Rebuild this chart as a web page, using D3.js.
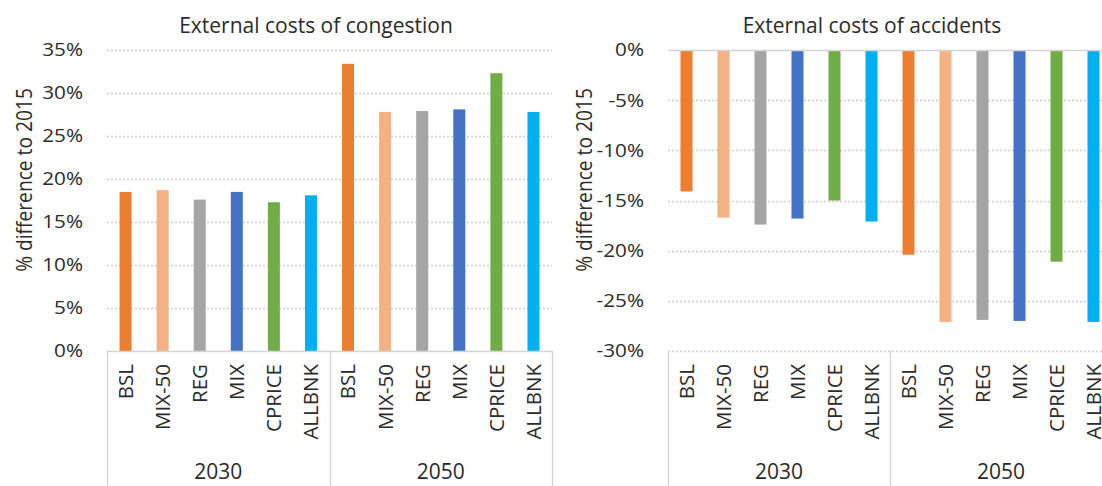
<!DOCTYPE html>
<html>
<head>
<meta charset="utf-8">
<script src="https://cdn.jsdelivr.net/npm/d3@7/dist/d3.min.js"></script>
<style>
  html, body { margin: 0; padding: 0; background: #ffffff; }
  svg { display: block; font-family: "Open Sans", "Noto Sans", sans-serif; }
</style>
</head>
<body>
<svg id="chart" width="1102" height="486"></svg>
<script>
// ---- data ----
const scenarios = ["BSL", "MIX-50", "REG", "MIX", "CPRICE", "ALLBNK"];
const years = ["2030", "2050"];
const congestion2030 = [18.5, 18.7, 17.6, 18.5, 17.3, 18.1];
const congestion2050 = [33.4, 27.8, 27.9, 28.1, 32.3, 27.8];
const accidents2030 = [-14.1, -16.7, -17.4, -16.8, -15.0, -17.1];
const accidents2050 = [-20.4, -27.1, -26.9, -27.0, -21.1, -27.1];
const congestionTicks = [0, 5, 10, 15, 20, 25, 30, 35];
const accidentTicks = [0, -5, -10, -15, -20, -25, -30];
const colors = ["#ED7D31", "#F4B183", "#A5A5A5", "#4472C4", "#70AD47", "#00B0F0"];
const yAxisTitle = "% difference to 2015";

const svg = d3.select("#chart");
const textColor = "#2b2b2b";
const gridColor = "#cfcfcf";
const boxColor = "#d4d4d4";

function buildRows(v2030, v2050) {
  const rows = [];
  years.forEach((yr, yi) => {
    const vals = yi === 0 ? v2030 : v2050;
    scenarios.forEach((s, si) => rows.push({ key: yr + "|" + s, year: yr, scen: s, si, value: vals[si] }));
  });
  return rows;
}

function drawPanel(cfg) {
  const g = svg.append("g");
  const rows = buildRows(cfg.v2030, cfg.v2050);
  const x = d3.scaleBand().domain(rows.map(d => d.key)).range([cfg.x0, cfg.x1]).paddingInner(0).paddingOuter(0);
  const y = d3.scaleLinear().domain(cfg.domain).range([cfg.yBottom, cfg.yTop]);
  const yearScale = d3.scaleBand().domain(years).range([cfg.x0, cfg.x1]);

  // gridlines (dotted)
  g.append("g").selectAll("line").data(cfg.ticks.filter(t => t !== 0)).join("line")
    .attr("x1", cfg.x0).attr("x2", cfg.x1)
    .attr("y1", d => Math.round(y(d)) + 0.5).attr("y2", d => Math.round(y(d)) + 0.5)
    .attr("stroke", gridColor).attr("stroke-width", 1.3).attr("stroke-dasharray", "2,2");

  // tick labels
  g.append("g").selectAll("text").data(cfg.ticks).join("text")
    .attr("transform", d => `translate(${cfg.x0 - 24},${y(d)}) scale(1.15,1)`)
    .attr("dy", "0.36em")
    .attr("text-anchor", "end").attr("font-size", 18).attr("fill", textColor)
    .text(d => d + "%");

  // bars
  const bw = 12;
  g.append("g").selectAll("rect").data(rows).join("rect")
    .attr("x", d => x(d.key) + x.bandwidth() / 2 - bw / 2)
    .attr("width", bw)
    .attr("y", d => Math.min(y(0), y(d.value)))
    .attr("height", d => Math.abs(y(d.value) - y(0)))
    .attr("fill", d => colors[d.si]);

  // zero axis line (solid)
  g.append("line").attr("x1", cfg.x0).attr("x2", cfg.x1)
    .attr("y1", Math.round(y(0)) + 0.5).attr("y2", Math.round(y(0)) + 0.5)
    .attr("stroke", boxColor).attr("stroke-width", 1.3);

  // category box verticals
  const boxTop = cfg.yBottom;
  const bounds = [cfg.x0, yearScale("2050"), cfg.x1];
  g.append("g").selectAll("line").data(bounds).join("line")
    .attr("x1", d => Math.round(d) + 0.5).attr("x2", d => Math.round(d) + 0.5)
    .attr("y1", boxTop).attr("y2", 486)
    .attr("stroke", boxColor).attr("stroke-width", 1.3);

  // scenario labels (rotated)
  g.append("g").selectAll("text").data(rows).join("text")
    .attr("transform", d => `translate(${x(d.key) + x.bandwidth() / 2},${cfg.yBottom + 13}) rotate(-90)`)
    .attr("dy", "0.36em").attr("text-anchor", "end")
    .attr("font-size", 20.5).attr("fill", textColor)
    .text(d => d.scen);

  // year labels
  g.append("g").selectAll("text").data(years).join("text")
    .attr("x", d => yearScale(d) + yearScale.bandwidth() / 2)
    .attr("y", 471).attr("dy", "0.36em").attr("text-anchor", "middle")
    .attr("font-size", 21).attr("fill", textColor)
    .text(d => d);

  // y axis title
  g.append("text")
    .attr("transform", `translate(${cfg.ylabelX},180) rotate(-90) scale(1,1.1)`)
    .attr("dy", "0.36em").attr("text-anchor", "middle")
    .attr("font-size", 19.2).attr("fill", textColor)
    .text(yAxisTitle);

  // chart title
  g.append("text")
    .attr("x", cfg.titleX).attr("y", 25).attr("dy", "0.36em")
    .attr("text-anchor", "middle").attr("font-size", 21).attr("fill", textColor)
    .text(cfg.title);
}

drawPanel({
  title: "External costs of congestion",
  v2030: congestion2030, v2050: congestion2050,
  domain: [0, 35], ticks: congestionTicks,
  x0: 107, x1: 552, yTop: 50, yBottom: 351,
  ylabelX: 24, titleX: 316
});

drawPanel({
  title: "External costs of accidents",
  v2030: accidents2030, v2050: accidents2050,
  domain: [-30, 0], ticks: accidentTicks,
  x0: 668, x1: 1112, yTop: 50, yBottom: 351,
  ylabelX: 584, titleX: 872
});
</script>
</body>
</html>
